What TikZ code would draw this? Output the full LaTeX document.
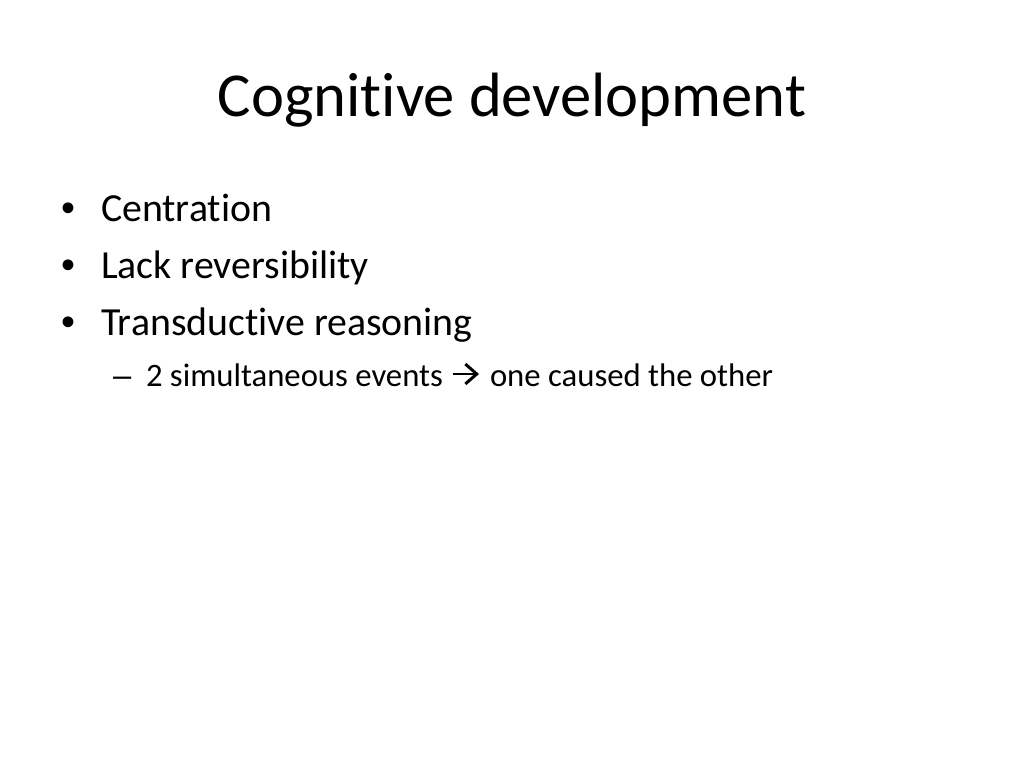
\documentclass[tikz,border=0pt]{standalone}
\usepackage{fontspec}
\setmainfont{Carlito}[Ligatures={NoCommon}]
\newfontfamily\bulletfont{Liberation Sans}
\usetikzlibrary{calc,arrows.meta}

\tikzset{
  txt/.style={anchor=base west,inner sep=0pt,outer sep=0pt},
  dot/.style={anchor=base west,inner sep=0pt,font=\bulletfont\fontsize{28}{34}\selectfont},
  wingarrow/.style={line width=2.1pt,-{Straight Barb[length=8pt,width=14pt,line width=2.1pt]}}
}

\begin{document}
\begin{tikzpicture}[x=0.703125pt,y=-0.703125pt]
  \useasboundingbox[fill=white] (0,0) rectangle (1024,768);
  \node[anchor=base,inner sep=0pt] (title) at (512,117) {\fontsize{44}{52}\selectfont Cognitive development};
  \node[dot] (b1) at (61,222) {•};
  \node[txt] (centr) at (101,222) {\fontsize{28}{34}\selectfont Centration};
  \node[dot] (b2) at (61,279) {•};
  \node[txt] (lack) at (101,279) {\fontsize{28}{34}\selectfont Lack reversibility};
  \node[dot] (b3) at (61,336) {•};
  \node[txt] (trans) at (101,336) {\fontsize{28}{34}\selectfont Transductive reasoning};
  \node[txt] (dash) at (113,386) {\bulletfont\fontsize{23}{28}\selectfont –};
  \node[txt] (events) at (146,386) {\fontsize{23}{28}\selectfont 2 simultaneous events};
  \node[txt] (other) at (490,386) {\fontsize{23}{28}\selectfont one caused the other};
  \coordinate (a1) at ($(events.base east)+(10,-12)$);
  \coordinate (a2) at ($(other.base west)+(-11,-12)$);
  \draw[wingarrow] (a1) -- (a2);
\end{tikzpicture}
\end{document}
